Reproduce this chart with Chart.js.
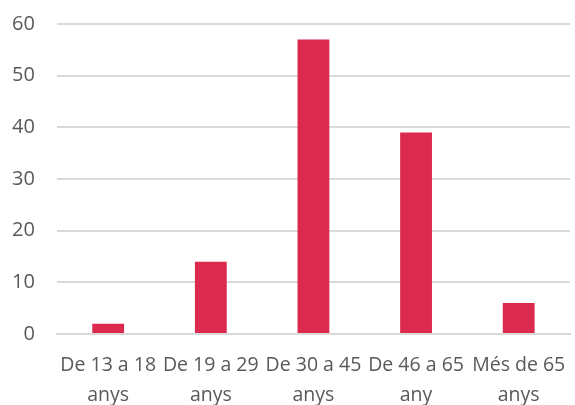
<!DOCTYPE html>
<html>
<head>
<meta charset="utf-8">
<script src="https://cdn.jsdelivr.net/npm/chart.js@4"></script>
<style>
  body { margin: 0; background: #fff; }
  #chart { display: block; }
</style>
</head>
<body>
<canvas id="chart" width="575" height="405"></canvas>
<script>
// age groups
const categories = [
  ["De 13 a 18", "anys"],
  ["De 19 a 29", "anys"],
  ["De 30 a 45", "anys"],
  ["De 46 a 65", "any"],
  ["Més de 65", "anys"]
];
const counts = [2, 14, 57, 39, 6];
const yTicks = [0, 10, 20, 30, 40, 50, 60];

const textColor = '#595959';
const gridColor = '#d9d9d9';

new Chart(document.getElementById('chart'), {
  type: 'bar',
  data: {
    labels: categories,
    datasets: [{
      data: counts,
      backgroundColor: '#dc294e',
      categoryPercentage: 1,
      barPercentage: 0.31
    }]
  },
  options: {
    responsive: false,
    animation: false,
    layout: { padding: { top: 24, right: 5, left: -10, bottom: 0 } },
    plugins: {
      legend: { display: false },
      tooltip: { enabled: false }
    },
    scales: {
      x: {
        grid: { display: false, drawTicks: false, tickLength: 0 },
        border: { color: gridColor, width: 2 },
        ticks: {
          color: textColor,
          font: { family: 'Open Sans', size: 19.5, lineHeight: 1.55 },
          maxRotation: 0,
          autoSkip: false,
          padding: 16
        },
        // keep the axis band the same height as the original, labels may overflow sideways
        afterFit: axis => {
          axis.height = 71;
          axis.paddingLeft = 0;
          axis.paddingRight = 0;
        }
      },
      y: {
        min: 0,
        max: 60,
        afterBuildTicks: axis => { axis.ticks = yTicks.map(v => ({ value: v })); },
        afterFit: axis => { axis.paddingTop = 0; axis.paddingBottom = 0; },
        grid: { color: gridColor, lineWidth: 2, drawTicks: false },
        border: { display: false },
        ticks: {
          color: textColor,
          font: { family: 'Open Sans', size: 20 },
          padding: 22
        }
      }
    }
  }
});
</script>
</body>
</html>
